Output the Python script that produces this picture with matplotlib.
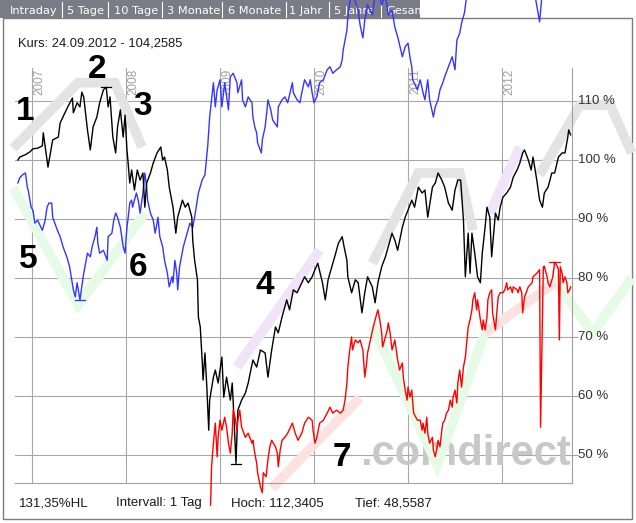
import matplotlib
matplotlib.use("Agg")
import matplotlib.pyplot as plt
from matplotlib.patches import Rectangle
import numpy as np

# ---- chart values: time in decimal years, price in % ----
black_x = [2006.85, 2006.87, 2006.93, 2006.98, 2007.01, 2007.06, 2007.11, 2007.12, 2007.17, 2007.22,
           2007.28, 2007.30, 2007.35, 2007.38, 2007.43, 2007.44, 2007.48, 2007.51, 2007.53, 2007.55,
           2007.59, 2007.62, 2007.65, 2007.69, 2007.72, 2007.76, 2007.79, 2007.81, 2007.83, 2007.85,
           2007.86, 2007.89, 2007.91, 2007.94, 2007.97, 2007.99, 2008.01, 2008.02, 2008.04, 2008.06,
           2008.09, 2008.12, 2008.15, 2008.18, 2008.20, 2008.22, 2008.26, 2008.29, 2008.33, 2008.37,
           2008.39, 2008.41, 2008.44, 2008.46, 2008.50, 2008.53, 2008.55, 2008.60, 2008.63, 2008.66,
           2008.70, 2008.71, 2008.73, 2008.76, 2008.77, 2008.79, 2008.81, 2008.82, 2008.84, 2008.86,
           2008.88, 2008.89, 2008.93, 2008.95, 2008.98, 2009.02, 2009.04, 2009.07, 2009.11, 2009.13,
           2009.15, 2009.17, 2009.19, 2009.23, 2009.27, 2009.30, 2009.35, 2009.39, 2009.43, 2009.48,
           2009.51, 2009.55, 2009.59, 2009.62, 2009.66, 2009.71, 2009.74, 2009.78, 2009.82, 2009.87,
           2009.90, 2009.94, 2009.98, 2010.01, 2010.04, 2010.09, 2010.12, 2010.15, 2010.19, 2010.22,
           2010.26, 2010.30, 2010.32, 2010.35, 2010.36, 2010.40, 2010.44, 2010.47, 2010.51, 2010.54,
           2010.57, 2010.62, 2010.65, 2010.68, 2010.72, 2010.76, 2010.79, 2010.83, 2010.86, 2010.89,
           2010.94, 2010.97, 2011.00, 2011.04, 2011.07, 2011.11, 2011.15, 2011.18, 2011.21, 2011.26,
           2011.29, 2011.32, 2011.36, 2011.39, 2011.43, 2011.47, 2011.50, 2011.53, 2011.56, 2011.59,
           2011.61, 2011.64, 2011.66, 2011.68, 2011.71, 2011.74, 2011.77, 2011.79, 2011.82, 2011.84,
           2011.87, 2011.89, 2011.93, 2011.96, 2011.98, 2012.01, 2012.05, 2012.09, 2012.12, 2012.16,
           2012.19, 2012.22, 2012.24, 2012.28, 2012.31, 2012.33, 2012.37, 2012.40, 2012.43, 2012.45,
           2012.49, 2012.53, 2012.56, 2012.60, 2012.64, 2012.67, 2012.70, 2012.71, 2012.73]
black_y = [100.0, 100.5, 100.9, 101.4, 101.9, 102.0, 102.4, 104.6, 98.8, 103.4,
           103.9, 106.3, 108.0, 109.0, 110.5, 108.0, 109.7, 109.0, 111.5, 110.7,
           105.1, 101.7, 105.6, 107.3, 109.7, 111.9, 112.3405, 109.0, 110.7, 106.3,
           103.9, 101.2, 105.6, 108.5, 103.9, 107.6, 101.7, 100.0, 96.1, 98.3,
           94.9, 98.3, 96.6, 97.8, 92.0, 96.1, 97.8, 99.5, 101.2, 102.2,
           100.0, 100.5, 98.3, 95.4, 92.0, 87.6, 90.3, 93.2, 92.0, 92.7,
           90.3, 86.4, 83.0, 79.7, 73.4, 71.7, 66.1, 62.7, 67.3, 61.5,
           54.2, 59.3, 63.2, 64.4, 62.2, 66.6, 59.8, 63.2, 59.3, 62.2,
           55.9, 48.5587, 57.6, 59.3, 60.5, 62.2, 66.1, 64.9, 67.8, 67.3,
           63.2, 67.8, 71.7, 70.7, 73.4, 76.3, 74.6, 78.0, 77.5, 79.2,
           80.2, 79.2, 80.2, 81.4, 82.5, 79.2, 76.3, 79.7, 81.9, 83.6,
           85.9, 87.0, 85.3, 83.0, 80.2, 77.5, 79.7, 79.2, 74.1, 77.5,
           80.2, 78.5, 75.8, 79.2, 81.9, 83.6, 85.3, 87.6, 86.4, 84.7,
           88.6, 90.3, 91.5, 93.2, 92.0, 95.4, 94.4, 94.9, 90.3, 95.4,
           96.1, 97.8, 96.6, 95.4, 92.7, 91.5, 94.9, 96.6, 96.6, 89.8,
           80.2, 87.6, 80.8, 87.6, 84.2, 80.2, 79.2, 84.2, 88.6, 92.0,
           90.3, 83.6, 91.0, 89.8, 92.0, 93.7, 94.4, 95.4, 97.1, 98.3,
           99.5, 101.2, 101.7, 100.0, 98.3, 100.5, 96.6, 93.2, 92.0, 94.4,
           95.4, 97.8, 97.8, 100.5, 101.2, 101.2, 103.9, 105.1, 104.2585]

blue_x = [2006.85, 2006.87, 2006.90, 2006.93, 2006.95, 2006.96, 2006.99, 2007.01, 2007.03, 2007.06,
          2007.11, 2007.12, 2007.14, 2007.16, 2007.18, 2007.21, 2007.22, 2007.27, 2007.30, 2007.33,
          2007.37, 2007.40, 2007.44, 2007.46, 2007.48, 2007.51, 2007.53, 2007.55, 2007.59, 2007.62,
          2007.64, 2007.67, 2007.69, 2007.70, 2007.72, 2007.76, 2007.80, 2007.81, 2007.85, 2007.87,
          2007.89, 2007.91, 2007.94, 2007.97, 2007.99, 2008.01, 2008.02, 2008.04, 2008.06, 2008.07,
          2008.11, 2008.13, 2008.15, 2008.18, 2008.20, 2008.22, 2008.23, 2008.26, 2008.29, 2008.31,
          2008.33, 2008.34, 2008.36, 2008.39, 2008.41, 2008.44, 2008.46, 2008.49, 2008.50, 2008.52,
          2008.54, 2008.55, 2008.57, 2008.61, 2008.65, 2008.68, 2008.71, 2008.73, 2008.77, 2008.81,
          2008.84, 2008.87, 2008.89, 2008.91, 2008.93, 2008.95, 2008.97, 2009.00, 2009.02, 2009.05,
          2009.09, 2009.11, 2009.14, 2009.18, 2009.19, 2009.23, 2009.24, 2009.27, 2009.30, 2009.34,
          2009.35, 2009.37, 2009.39, 2009.40, 2009.44, 2009.45, 2009.48, 2009.50, 2009.51, 2009.54,
          2009.56, 2009.61, 2009.62, 2009.66, 2009.69, 2009.72, 2009.77, 2009.78, 2009.82, 2009.85,
          2009.87, 2009.90, 2009.94, 2009.96, 2009.98, 2010.00, 2010.03, 2010.06, 2010.10, 2010.14,
          2010.17, 2010.20, 2010.24, 2010.28, 2010.30, 2010.31, 2010.35, 2010.36, 2010.38, 2010.40,
          2010.44, 2010.47, 2010.49, 2010.52, 2010.54, 2010.57, 2010.62, 2010.65, 2010.68, 2010.72,
          2010.76, 2010.79, 2010.83, 2010.86, 2010.89, 2010.94, 2010.97, 2011.00, 2011.02, 2011.04,
          2011.05, 2011.10, 2011.13, 2011.16, 2011.18, 2011.21, 2011.23, 2011.27, 2011.29, 2011.32,
          2011.34, 2011.37, 2011.39, 2011.43, 2011.47, 2011.50, 2011.52, 2011.55, 2011.57, 2011.60,
          2011.64, 2011.71, 2011.82, 2011.93, 2012.03, 2012.14, 2012.24, 2012.35, 2012.40, 2012.43,
          2012.51, 2012.62, 2012.73]
blue_y = [96.1, 97.0, 97.5, 97.8, 95.4, 94.9, 92.0, 91.5, 89.3, 89.8,
          88.1, 88.6, 89.8, 92.0, 92.7, 92.7, 90.3, 88.1, 87.0, 85.3,
          83.6, 81.9, 78.0, 76.8, 79.2, 76.3, 78.5, 80.8, 84.2, 83.6,
          85.3, 87.0, 88.6, 85.9, 84.2, 84.7, 83.0, 87.0, 87.6, 89.8,
          91.0, 90.3, 88.6, 85.3, 84.2, 88.6, 89.8, 92.7, 93.2, 92.0,
          94.4, 93.2, 91.0, 94.4, 97.8, 95.4, 93.2, 91.0, 89.8, 87.6,
          89.3, 90.3, 87.0, 85.3, 83.0, 80.8, 78.5, 80.2, 79.2, 83.0,
          80.8, 78.0, 81.9, 85.3, 87.6, 89.3, 88.6, 90.3, 94.4, 96.6,
          97.5, 102.5, 107.3, 110.2, 113.1, 109.0, 111.9, 113.6, 109.0, 113.1,
          108.5, 114.1, 114.7, 113.1, 111.4, 113.6, 110.2, 109.0, 110.7, 109.7,
          107.3, 105.6, 104.6, 102.9, 101.2, 103.4, 105.6, 108.5, 110.2, 108.5,
          106.8, 105.6, 109.0, 110.2, 110.7, 109.7, 113.1, 111.4, 110.2, 109.7,
          111.4, 113.6, 112.4, 113.6, 111.4, 109.7, 110.7, 113.1, 113.6, 115.3,
          115.8, 114.7, 115.3, 115.8, 117.0, 118.6, 122.0, 124.2, 126.6, 128.5,
          126.8, 125.4, 122.9, 120.7, 123.7, 126.3, 124.6, 128.0, 128.8, 126.3,
          128.0, 124.6, 125.4, 122.5, 120.9, 117.5, 119.2, 119.8, 117.5, 115.8,
          113.6, 111.9, 113.6, 111.4, 110.2, 113.6, 110.2, 107.3, 109.0, 110.2,
          111.9, 113.1, 114.1, 115.8, 117.5, 115.3, 120.3, 121.5, 123.2, 124.9,
          129.7, 131.4, 130.5, 132.2, 131.4, 129.7, 128.8, 128.0, 123.4, 128.8,
          130.5, 132.2, 133.0]

red_x = [2008.90, 2008.91, 2008.93, 2008.95, 2008.97, 2008.98, 2009.00, 2009.02, 2009.05, 2009.07,
         2009.09, 2009.11, 2009.13, 2009.14, 2009.16, 2009.18, 2009.19, 2009.21, 2009.23, 2009.27,
         2009.30, 2009.34, 2009.35, 2009.37, 2009.39, 2009.40, 2009.43, 2009.45, 2009.46, 2009.49,
         2009.51, 2009.53, 2009.55, 2009.59, 2009.61, 2009.62, 2009.64, 2009.66, 2009.69, 2009.72,
         2009.77, 2009.80, 2009.83, 2009.87, 2009.90, 2009.94, 2009.98, 2009.99, 2010.01, 2010.03,
         2010.06, 2010.10, 2010.14, 2010.17, 2010.20, 2010.24, 2010.28, 2010.31, 2010.33, 2010.35,
         2010.36, 2010.38, 2010.40, 2010.41, 2010.44, 2010.47, 2010.49, 2010.52, 2010.54, 2010.56,
         2010.57, 2010.60, 2010.63, 2010.67, 2010.68, 2010.70, 2010.72, 2010.73, 2010.78, 2010.79,
         2010.81, 2010.83, 2010.86, 2010.89, 2010.91, 2010.94, 2010.95, 2010.97, 2010.99, 2011.00,
         2011.02, 2011.04, 2011.06, 2011.10, 2011.13, 2011.15, 2011.16, 2011.18, 2011.20, 2011.21,
         2011.23, 2011.26, 2011.27, 2011.29, 2011.31, 2011.32, 2011.34, 2011.36, 2011.37, 2011.39,
         2011.41, 2011.43, 2011.45, 2011.47, 2011.48, 2011.50, 2011.52, 2011.53, 2011.55, 2011.57,
         2011.59, 2011.61, 2011.63, 2011.64, 2011.66, 2011.68, 2011.69, 2011.71, 2011.73, 2011.74,
         2011.77, 2011.79, 2011.80, 2011.82, 2011.84, 2011.85, 2011.87, 2011.89, 2011.90, 2011.93,
         2011.95, 2011.96, 2011.98, 2012.01, 2012.03, 2012.05, 2012.06, 2012.09, 2012.11, 2012.12,
         2012.16, 2012.17, 2012.19, 2012.21, 2012.22, 2012.24, 2012.28, 2012.32, 2012.33, 2012.37,
         2012.40, 2012.41, 2012.44, 2012.45, 2012.48, 2012.49, 2012.51, 2012.54, 2012.56, 2012.59,
         2012.60, 2012.61, 2012.62, 2012.64, 2012.65, 2012.67, 2012.69, 2012.70, 2012.72, 2012.73]
red_y = [41.5, 48.0, 52.0, 55.4, 49.7, 53.0, 55.9, 54.2, 56.4, 54.7,
         52.0, 50.3, 53.7, 57.6, 56.4, 54.2, 55.9, 57.6, 54.7, 53.0,
         53.7, 52.0, 52.5, 50.3, 48.6, 47.0, 44.6, 43.6, 47.0, 46.3,
         49.2, 51.4, 52.5, 51.4, 50.3, 48.0, 50.8, 52.5, 53.0, 53.7,
         55.4, 53.7, 52.5, 53.7, 55.4, 56.4, 55.9, 54.2, 52.0, 53.0,
         55.4, 55.9, 57.1, 58.1, 57.1, 57.6, 57.1, 57.6, 59.3, 62.2,
         64.9, 67.8, 70.0, 67.8, 69.5, 69.0, 69.5, 67.8, 63.2, 65.6,
         67.3, 69.5, 71.7, 74.1, 74.6, 72.9, 70.7, 68.3, 71.2, 72.4,
         70.7, 67.8, 69.5, 66.1, 64.4, 65.6, 63.2, 61.0, 59.3, 61.5,
         59.8, 61.0, 57.1, 55.9, 55.9, 54.2, 55.4, 53.7, 56.4, 53.7,
         52.0, 53.0, 50.8, 49.7, 51.4, 52.5, 51.4, 54.2, 55.4, 55.9,
         57.1, 57.6, 59.3, 58.1, 59.8, 61.0, 58.8, 62.2, 64.4, 61.5,
         64.9, 66.6, 70.0, 71.7, 72.9, 74.6, 76.3, 77.5, 74.6, 76.3,
         72.9, 71.2, 72.9, 71.2, 73.4, 76.3, 77.5, 78.0, 74.1, 71.2,
         75.1, 76.8, 77.5, 77.5, 78.0, 79.2, 78.0, 78.5, 77.5, 78.5,
         78.0, 77.5, 78.5, 77.5, 74.1, 76.8, 78.5, 79.2, 80.2, 80.8,
         81.4, 54.7, 81.9, 82.0, 80.2, 79.2, 78.5, 80.2, 82.7, 81.9,
         81.4, 69.5, 81.9, 80.8, 79.2, 80.2, 79.2, 77.5, 78.0, 78.5]

years = [2007, 2008, 2009, 2010, 2011, 2012]
pct_ticks = [50, 60, 70, 80, 90, 100, 110]
tabs = ["Intraday", "5 Tage", "10 Tage", "3 Monate", "6 Monate", "1 Jahr", "5 Jahre", "Gesamt"]
kurs_text = "Kurs: 24.09.2012 - 104,2585"
footer = ["131,35%HL", "Intervall: 1 Tag", "Hoch: 112,3405", "Tief: 48,5587"]

# hand drawn pattern marks (year, %) and the big numbers
gray_marks = [
    ([2006.80, 2007.49, 2007.88, 2008.17], [102.0, 113.1, 113.1, 102.2]),
    ([2010.62, 2011.11, 2011.55, 2011.69], [82.5, 97.8, 97.8, 88.1]),
    ([2012.40, 2012.83, 2013.15, 2013.38], [97.5, 109.3, 109.3, 101.2]),
]
green_marks = [
    ([2006.80, 2007.49, 2008.20], [95.3, 75.4, 91.0]),
    ([2010.62, 2011.31, 2011.82], [72.0, 48.3, 70.7]),
    ([2012.51, 2012.97, 2013.38], [80.5, 70.7, 80.0]),
]
purple_marks = [
    ([2009.18, 2010.06], [64.9, 84.7]),
    ([2011.87, 2012.19], [91.0, 102.2]),
]
pink_marks = [
    ([2009.55, 2010.49], [44.4, 59.7]),
    ([2011.82, 2012.56], [70.7, 79.2]),
]
numbers = ["1", "2", "3", "4", "5", "6", "7"]
numbers_x = [2006.93, 2007.69, 2008.18, 2009.48, 2006.96, 2008.13, 2010.30]
numbers_y = [108.3, 115.4, 109.0, 78.8, 83.2, 81.7, 49.5]

W, H = 636, 523
fig = plt.figure(figsize=(W / 100, H / 100), dpi=100)

# frame, tab bar and plain texts in pixel space
bg = fig.add_axes([0, 0, 1, 1], zorder=-1)
bg.set_xlim(0, W)
bg.set_ylim(H, 0)
bg.axis("off")
bg.add_patch(Rectangle((3, 18), 629, 501, fill=False, ec="#7c7c7c", lw=1.0))
bg.add_patch(Rectangle((0, 0), 420, 18, fc="#7b7b87", ec="none"))
tab_left = [10, 67, 114, 167, 228, 289, 334, 386]
tab_sep = [62, 108, 162, 222, 286, 329, 381]
for sx in tab_sep:
    bg.plot([sx, sx], [2, 17], color="white", lw=0.8)
for tx, t in zip(tab_left, tabs):
    bg.text(tx, 10.5, t, color="white", fontsize=8.2, va="center", family="DejaVu Sans")
bg.text(18, 43, kurs_text, fontsize=9.3, va="center", family="Liberation Sans", color="#1a1a1a")
for fx, t in zip([19, 116, 231, 355], footer):
    bg.text(fx, 503, t, fontsize=9.5, va="center", family="Liberation Sans", color="#1a1a1a")

# chart area
x0, x1 = 2007 + (15 - 32) / 94, 2007 + (572 - 32) / 94
y0, y1 = 110 - (483 - 101) / 5.9, 110 + (101 - 68) / 5.9
ax = fig.add_axes([15 / W, (H - 483) / H, 557 / W, 415 / H])
ax.set_facecolor("none")
ax.set_xlim(x0, x1)
ax.set_ylim(y0, y1)
for s in ["top", "left"]:
    ax.spines[s].set_visible(False)
for s in ["right", "bottom"]:
    ax.spines[s].set_color("#a0a0a0")
    ax.spines[s].set_linewidth(0.8)
ax.set_xticks(years)
ax.set_yticks(pct_ticks)
ax.tick_params(axis="x", length=0, labelbottom=False)
ax.yaxis.tick_right()
ax.tick_params(axis="y", length=4, width=0.8, color="#a0a0a0", labelright=False)
ax.grid(True, color="#a8a8a8", lw=0.8)
ax.set_axisbelow(True)

# y labels as texts so they sit on top of the pattern marks
for v in pct_ticks:
    ax.annotate(f"{v} %", (1.0, v), xycoords=("axes fraction", "data"), xytext=(4, 0),
                textcoords="offset points", va="center", ha="left", fontsize=9.5,
                color="#333333", family="Liberation Sans", zorder=5, annotation_clip=False)

for yr in years:
    ax.annotate(str(yr), (yr, y1), xytext=(1.2, -0.5), textcoords="offset points",
                rotation=90, ha="left", va="top", fontsize=8.5, color="#a0a0a0",
                family="Liberation Sans")

ax.text(2010.49, 48.3, ".comdirect", fontsize=30, weight="bold", color="#c8c8c8",
        family="Liberation Sans", zorder=1.5)

for marks, col in [(gray_marks, "#e3e3e3"), (green_marks, "#e6fbe6"),
                   (purple_marks, "#f1e4f8"), (pink_marks, "#fde2e2")]:
    for xs, ys in marks:
        ax.plot(xs, ys, color=col, lw=7, solid_capstyle="butt",
                solid_joinstyle="miter", clip_on=False, zorder=2)

ax.plot(blue_x, blue_y, color="#3535ff", lw=1.0, clip_on=False, zorder=3)
ax.plot(black_x, black_y, color="black", lw=1.0, clip_on=False, zorder=3.1)
ax.plot(red_x, red_y, color="#ff0000", lw=1.0, clip_on=False, zorder=3.2)

# high / low markers
hw = 0.055
for xs, ys, col, fn in [(black_x, black_y, "black", np.argmax), (black_x, black_y, "black", np.argmin),
                        (blue_x, blue_y, "#3535ff", np.argmin), (red_x, red_y, "#ff0000", np.argmax)]:
    i = fn(ys)
    ax.plot([xs[i] - hw, xs[i] + hw], [ys[i], ys[i]], color=col, lw=0.9, zorder=3.3)

for n, nx, ny in zip(numbers, numbers_x, numbers_y):
    ax.text(nx, ny, n, fontsize=24, weight="bold", ha="center", va="center",
            family="Liberation Sans", zorder=4)

plt.savefig("out.png", dpi=100)
